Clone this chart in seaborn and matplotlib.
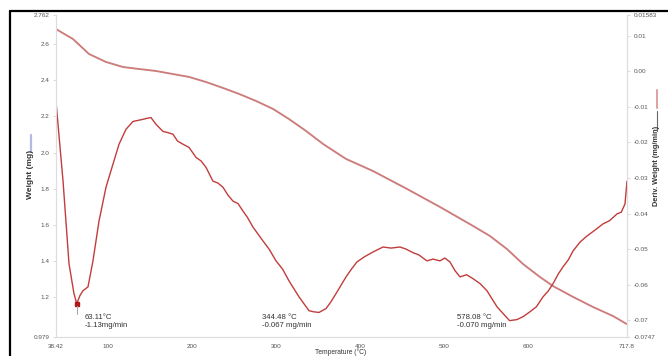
import numpy as np
import pandas as pd
import matplotlib
matplotlib.use("Agg")
import matplotlib.pyplot as plt
from matplotlib.lines import Line2D
import seaborn as sns

# ---- data ----
tg_temp = [38.42, 58.6, 77.7, 97.9, 118.1, 137.2, 157.4, 177.6, 196.7, 216.9, 237.1,
           256.2, 276.4, 296.6, 315.6, 335.9, 356.1, 383.5, 415.6, 456.0, 495.3,
           534.6, 554.8, 575.0, 594.1, 614.3, 629.8, 653.6, 677.4, 701.2, 717.8]
tg_weight = [2.684, 2.629, 2.546, 2.502, 2.474, 2.463, 2.452, 2.435, 2.419, 2.391, 2.358,
             2.325, 2.286, 2.242, 2.186, 2.120, 2.048, 1.965, 1.898, 1.799, 1.699,
             1.594, 1.538, 1.466, 1.383, 1.311, 1.261, 1.201, 1.145, 1.095, 1.050]

dtg_temp = [38.42, 46.8, 53.9, 59.8, 63.11, 67.0, 70.5, 76.5, 82.4, 89.6, 97.9, 106.2,
            113.4, 121.7, 130.0, 136.0, 141.9, 147.0, 151.4, 157.4, 165.7, 171.0, 177.6,
            183.0, 189.5, 196.7, 205.0, 211.0, 216.9, 225.2, 231.0, 237.1, 243.0, 249.0,
            255.0, 260.9, 266.0, 272.8, 284.7, 292.0, 300.2, 308.0, 315.6, 327.5, 339.4,
            344.48, 351.3, 359.7, 365.0, 371.6, 383.5, 390.0, 396.5, 405.0, 415.6, 427.5,
            437.0, 447.7, 455.0, 463.2, 470.0, 479.8, 487.0, 495.3, 501.0, 507.2, 513.0,
            519.1, 527.0, 534.6, 543.0, 551.2, 563.1, 578.08, 586.9, 594.0, 602.4, 610.0,
            617.9, 624.0, 629.8, 636.0, 641.6, 648.0, 653.6, 662.0, 670.2, 680.0, 689.2,
            697.0, 705.9, 711.0, 715.4, 717.8]
dtg_value = [-0.0085, -0.0309, -0.0541, -0.0625, -0.0653, -0.0630, -0.0617, -0.0606,
             -0.0533, -0.0421, -0.0326, -0.0261, -0.0205, -0.0163, -0.0141, -0.0138,
             -0.0135, -0.0132, -0.0130, -0.0149, -0.0169, -0.0172, -0.0177, -0.0196,
             -0.0205, -0.0214, -0.0242, -0.0252, -0.0270, -0.0309, -0.0314, -0.0326,
             -0.0348, -0.0365, -0.0372, -0.0393, -0.0410, -0.0438, -0.0477, -0.0500,
             -0.0533, -0.0556, -0.0589, -0.0634, -0.0673, -0.0676, -0.0678, -0.0667,
             -0.0650, -0.0625, -0.0578, -0.0556, -0.0536, -0.0522, -0.0508, -0.0494,
             -0.0497, -0.0494, -0.0500, -0.0510, -0.0516, -0.0533, -0.0528, -0.0533,
             -0.0525, -0.0536, -0.0560, -0.0578, -0.0572, -0.0583, -0.0597, -0.0617,
             -0.0662, -0.0701, -0.0698, -0.0690, -0.0676, -0.0662, -0.0634, -0.0618,
             -0.0597, -0.0570, -0.0550, -0.0530, -0.0505, -0.0480, -0.0463, -0.0446,
             -0.0429, -0.0420, -0.0401, -0.0396, -0.0373, -0.0309]

peak_temps = [63.11, 344.48, 578.08]
peak_rates = ["-1.13mg/min", "-0.067 mg/min", "-0.070 mg/min"]
peak_temp_labels = ["63.11°C", "344.48 °C", "578.08 °C"]

x_ticks = [38.42, 100, 200, 300, 400, 500, 600, 717.8]
x_tick_labels = ["38.42", "100", "200", "300", "400", "500", "600", "717.8"]
left_ticks = [0.979, 1.2, 1.4, 1.6, 1.8, 2.0, 2.2, 2.4, 2.6, 2.762]
left_tick_labels = ["0.979", "1.2", "1.4", "1.6", "1.8", "2.0", "2.2", "2.4", "2.6", "2.762"]
right_ticks = [-0.0747, -0.07, -0.06, -0.05, -0.04, -0.03, -0.02, -0.01, 0.00, 0.01, 0.01583]
right_tick_labels = ["-0.0747", "-0.07", "-0.06", "-0.05", "-0.04", "-0.03", "-0.02",
                     "-0.01", "0.00", "0.01", "0.01583"]

# ---- style ----
sns.set_style("white")
plt.rcParams['font.family'] = ['Liberation Sans', 'DejaVu Sans']

fig = plt.figure(figsize=(6.68, 3.56), dpi=100)
ax = fig.add_axes([56 / 668, 19 / 356, 571 / 668, 322 / 356])
ax2 = ax.twinx()

tg_df = pd.DataFrame({"Temperature": tg_temp, "Weight": tg_weight})
dtg_df = pd.DataFrame({"Temperature": dtg_temp, "Deriv": dtg_value})

sns.lineplot(data=tg_df, x="Temperature", y="Weight", ax=ax, color="#cd7c7c",
             linewidth=1.35, sort=False)
sns.lineplot(data=dtg_df, x="Temperature", y="Deriv", ax=ax2, color="#c23c3c",
             linewidth=1.0, sort=False)

ax.set_xlim(38.42, 717.8)
ax.set_ylim(0.979, 2.762)
ax2.set_ylim(-0.0747, 0.01583)

ax.set_xticks(x_ticks)
ax.set_xticklabels(x_tick_labels)
ax.set_yticks(left_ticks)
ax.set_yticklabels(left_tick_labels)
ax2.set_yticks(right_ticks)
ax2.set_yticklabels(right_tick_labels)

for a in (ax, ax2):
    a.tick_params(axis="both", labelsize=4.6, colors="#555555", length=2, width=0.5,
                  pad=2.5, color="#cccccc")
    a.set_xlabel("")
    a.set_ylabel("")
    for s in a.spines.values():
        s.set_color("#dddddd")
        s.set_linewidth(0.8)
    a.spines["top"].set_visible(False)
ax.tick_params(axis="x", pad=2.8)

# minimum marker for the first peak
i_min = int(np.argmin(dtg_value[:10]))
ax2.plot([dtg_temp[i_min]], [dtg_value[i_min]], marker="s", markersize=3,
         color="#b01818", linestyle="none")
ax2.plot([dtg_temp[i_min], dtg_temp[i_min]],
         [dtg_value[i_min] - 0.0006, dtg_value[i_min] - 0.0028],
         color="#aaaaaa", linewidth=0.8)

# peak annotations
offsets = [9.8, -61.0, -62.5]
for t, lab, rate, off in zip(peak_temps, peak_temp_labels, peak_rates, offsets):
    ax.text(t + off, 0.048, lab + "\n" + rate, transform=ax.get_xaxis_transform(),
            fontsize=5.6, color="#333333", ha="left", va="center", linespacing=1.3)

# axis labels
fig.text(341 / 668, 1 - 352.6 / 356, "Temperature (°C)", ha="center", va="center",
         fontsize=4.8, color="#333333")
fig.add_artist(Line2D([31 / 668, 31 / 668], [1 - 152 / 356, 1 - 135 / 356],
                      color="#b4b8e2", linewidth=1.6))
fig.text(31 / 668, 1 - 174 / 356, "Weight (mg)", rotation=90, ha="center", va="center",
         fontsize=6, color="#333333", fontweight="bold")
fig.add_artist(Line2D([657 / 668, 657 / 668], [1 - 108 / 356, 1 - 90 / 356],
                      color="#e0a0a0", linewidth=1.4))
fig.add_artist(Line2D([657 / 668, 657 / 668], [1 - 131 / 356, 1 - 111 / 356],
                      color="#666666", linewidth=0.8))
fig.text(657 / 668, 1 - 166 / 356, "Deriv. Weight (mg/min)", rotation=90, ha="center",
         va="center", fontsize=5.3, color="#333333", fontweight="bold")

# outer frame (cut off at right and bottom)
fig.add_artist(Line2D([10 / 668, 1.01], [1 - 11 / 356, 1 - 11 / 356],
                      color="black", linewidth=1.6))
fig.add_artist(Line2D([10 / 668, 10 / 668], [1 - 11 / 356, -0.01],
                      color="black", linewidth=1.6))

fig.savefig("out.png", dpi=100, facecolor="white")
